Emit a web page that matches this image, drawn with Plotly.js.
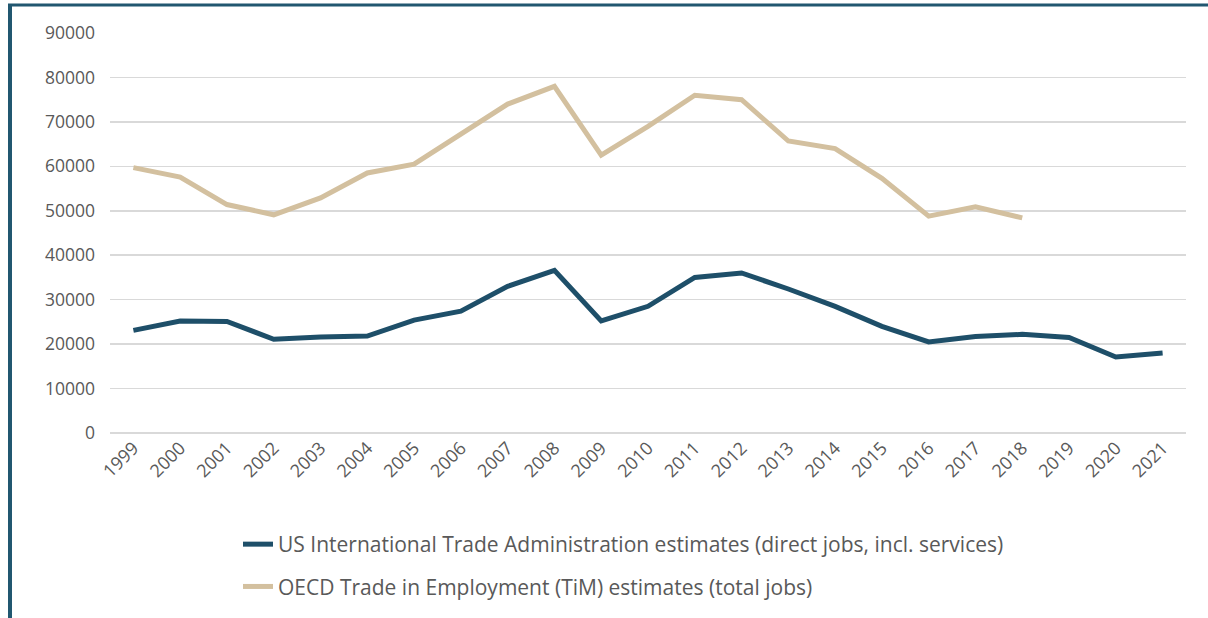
<!DOCTYPE html>
<html>
<head>
<meta charset="utf-8">
<script src="https://cdn.plot.ly/plotly-3.0.1.min.js"></script>
<style>
  html, body { margin: 0; padding: 0; background: #ffffff; }
  #chart { width: 1208px; height: 618px; }
</style>
</head>
<body>
<div id="chart"></div>
<script>
const years = ['1999','2000','2001','2002','2003','2004','2005','2006','2007','2008','2009','2010',
               '2011','2012','2013','2014','2015','2016','2017','2018','2019','2020','2021'];
const usITA = [23100, 25200, 25100, 21100, 21600, 21800, 25400, 27400, 33000, 36600, 25200, 28500,
               35000, 36000, 32400, 28500, 24000, 20500, 21700, 22200, 21500, 17100, 18000];
const oecdYears = years.slice(0, 20);
const oecdTiM = [59700, 57600, 51400, 49100, 52900, 58500, 60500, 67400, 74000, 78000, 62500, 69000,
                 76000, 75000, 65700, 64000, 57300, 48800, 50900, 48400];
const yTicks = [0, 10000, 20000, 30000, 40000, 50000, 60000, 70000, 80000, 90000];
const seriesNames = ['US International Trade Administration estimates (direct jobs, incl. services)',
                     'OECD Trade in Employment (TiM) estimates (total jobs)'];

const FONT = 'Open Sans, Noto Sans, sans-serif';
const traces = [
  { x: years, y: usITA, type: 'scatter', mode: 'lines', name: seriesNames[0], legendgroup: 'a',
    line: { color: '#1E4F69', width: 5 } },
  { x: oecdYears, y: oecdTiM, type: 'scatter', mode: 'lines', name: seriesNames[1], legendgroup: 'b',
    line: { color: '#D3C09F', width: 5 } }
];

// paper coordinate helpers for frame/legend placement (plot area: x 110..1186, y 33..433)
const px = p => (p - 110) / 1076;
const py = p => (433 - p) / 400;

const layout = {
  width: 1208, height: 618,
  margin: { l: 110, r: 22, t: 33, b: 185, autoexpand: false },
  paper_bgcolor: '#ffffff', plot_bgcolor: '#ffffff',
  font: { family: FONT, color: '#595959', size: 17 },
  showlegend: true,
  legend: {
    orientation: 'v', x: px(238), xanchor: 'left', y: py(524), yanchor: 'top',
    traceorder: 'grouped',
    font: { family: FONT, size: 21, color: '#595959' },
    tracegroupgap: 12, bgcolor: 'rgba(0,0,0,0)'
  },
  xaxis: {
    type: 'category', range: [-0.5, 22.5], tickangle: -45, showgrid: false, showline: false, zeroline: false,
    automargin: false,
    ticks: '', tickfont: { family: FONT, size: 18, color: '#595959' }, fixedrange: true
  },
  yaxis: {
    range: [0, 90000], tickvals: yTicks, ticktext: yTicks.map(String),
    showgrid: true, gridcolor: '#D9D9D9', gridwidth: 1.5,
    zeroline: true, zerolinecolor: '#D9D9D9', zerolinewidth: 1.5,
    showline: false, ticks: '', ticklabelstandoff: 14, automargin: false,
    tickfont: { family: FONT, size: 17.5, color: '#595959' }, fixedrange: true
  },
  shapes: [
    { type: 'line', xref: 'paper', yref: 'paper', x0: px(8), x1: px(1210), y0: py(5), y1: py(5),
      line: { color: '#215770', width: 3 } },
    { type: 'line', xref: 'paper', yref: 'paper', x0: px(10), x1: px(10), y0: py(4), y1: py(620),
      line: { color: '#215770', width: 4 } }
  ]
};

Plotly.newPlot('chart', traces, layout, { displayModeBar: false, staticPlot: true });
</script>
</body>
</html>
